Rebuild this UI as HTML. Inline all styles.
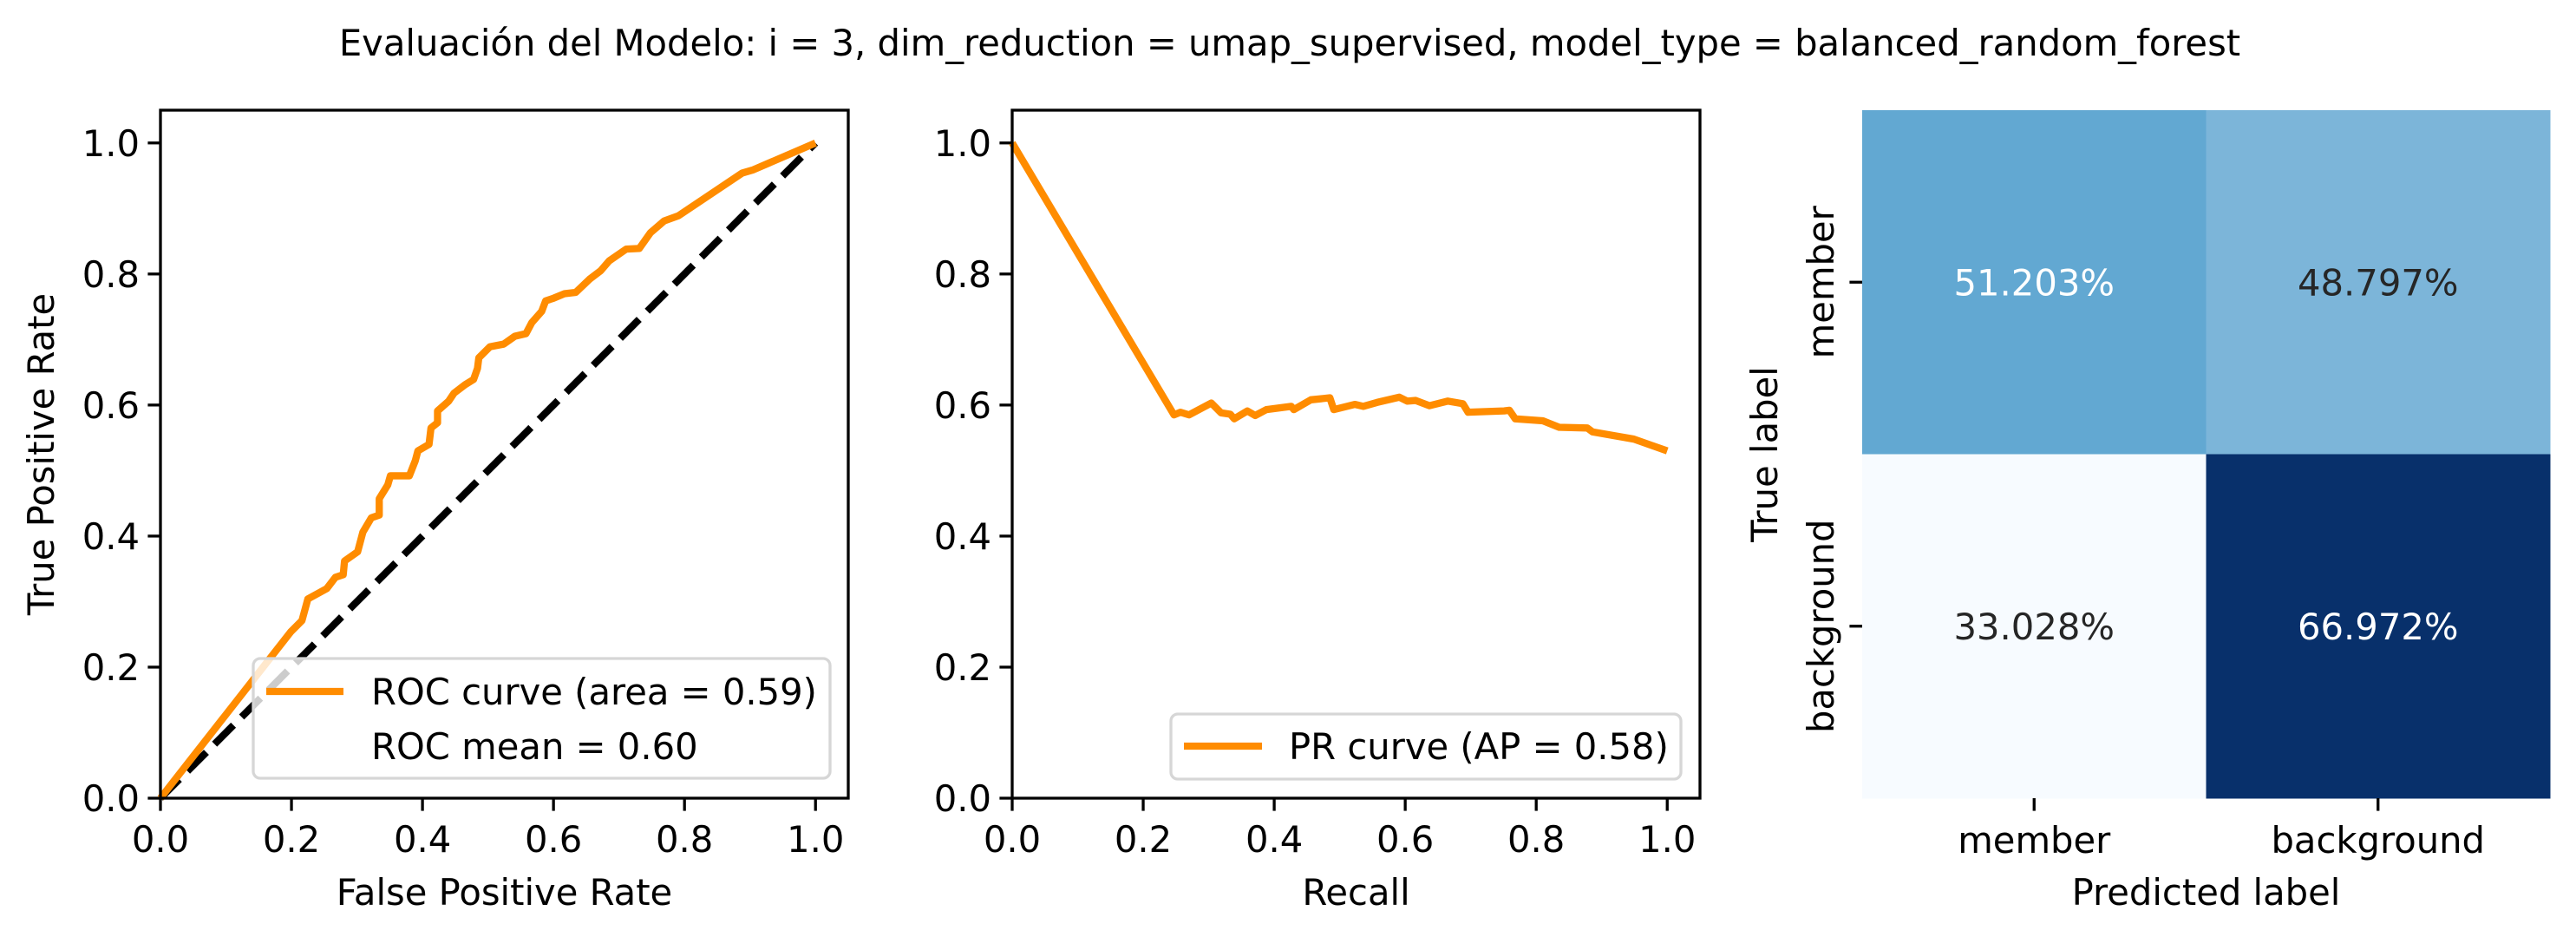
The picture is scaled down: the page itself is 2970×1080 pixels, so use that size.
<!DOCTYPE html>
<html><head><meta charset="utf-8"><style>
html,body{margin:0;padding:0;background:#fff;}
svg{display:block;font-family:"DejaVu Sans","Liberation Sans",sans-serif;}
</style></head><body>
<svg id="fig" width="2970" height="1080" viewBox="0 0 2970 1080" xmlns="http://www.w3.org/2000/svg">
<text x="1487" y="64" font-size="41.7" text-anchor="middle">Evaluación del Modelo: i = 3, dim_reduction = umap_supervised, model_type = balanced_random_forest</text>
</svg>
<script>
const rocFpr=[0,.199,.216,.225,.254,.267,.279,.281,.301,.309,.322,.334,.334,.347,.351,.380,.389,.393,.410,.413,.423,.423,.440,.448,.465,.478,.484,.486,.503,.524,.541,.558,.567,.582,.588,.600,.617,.634,.655,.672,.685,.711,.731,.748,.769,.791,.888,.905,1];
const rocTpr=[0,.254,.271,.304,.320,.337,.341,.362,.376,.406,.428,.432,.457,.478,.492,.492,.515,.530,.540,.565,.573,.591,.606,.618,.631,.639,.656,.672,.689,.693,.705,.709,.726,.743,.759,.763,.770,.772,.792,.805,.820,.838,.839,.863,.881,.889,.954,.959,1];
const prRecall=[0,.247,.257,.270,.304,.319,.333,.339,.359,.371,.388,.426,.430,.456,.485,.491,.523,.536,.557,.591,.603,.616,.637,.665,.688,.696,.751,.759,.768,.810,.835,.878,.886,.949,1];
const prPrecision=[1,.585,.589,.585,.603,.588,.586,.579,.591,.584,.593,.598,.593,.608,.611,.593,.601,.598,.604,.612,.606,.607,.599,.606,.602,.589,.591,.592,.579,.576,.566,.565,.559,.548,.530];
const ticks=[0,0.2,0.4,0.6,0.8,1.0];
const tickLabels=["0.0","0.2","0.4","0.6","0.8","1.0"];
const cmLabels=["member","background"];
const cmValues=[[51.203,48.797],[33.028,66.972]];
const cmColors=[["#62a8d2","#7cb5d9"],["#f7fbff","#08306b"]];

const NS="http://www.w3.org/2000/svg";
const fig=document.getElementById('fig');
function el(tag,attrs,parent,text){const e=document.createElementNS(NS,tag);for(const k in attrs)e.setAttribute(k,attrs[k]);if(text!==undefined)e.textContent=text;(parent||fig).appendChild(e);return e;}
const TOP=127,BOT=920,FS=41.7;
function axes(left,name,xlabel,ylabel){
  const g=el('g',{});
  
  
  const W=793;
  const sx=v=>left+v/1.05*W, sy=v=>BOT-v/1.05*(BOT-TOP);
  ticks.forEach((t,i)=>{
    const l1=el('line',{x1:sx(t),x2:sx(t),y1:BOT,y2:BOT+14.6,stroke:'#000','stroke-width':3.3},g);
    
    
    const t1=el('text',{x:sx(t),y:BOT+62,'font-size':FS,'text-anchor':'middle'},g,tickLabels[i]);
    
    
    const l2=el('line',{x1:left-14.6,x2:left,y1:sy(t),y2:sy(t),stroke:'#000','stroke-width':3.3},g);
    
    
    const t2=el('text',{x:left-24,y:sy(t)+15,'font-size':FS,'text-anchor':'end'},g,tickLabels[i]);
    
    
  });
  const xl=el('text',{x:left+W/2,y:1043,'font-size':FS,'text-anchor':'middle'},g,xlabel);
  
  
  if(ylabel){
    const yl=el('text',{x:0,y:0,'font-size':FS,'text-anchor':'middle',transform:`translate(62,${(TOP+BOT)/2}) rotate(-90)`},g,ylabel);
    
    
  }
  return {g,sx,sy,left,W};
}
function frame(a){
  const r=el('rect',{x:a.left,y:TOP,width:a.W,height:BOT-TOP,fill:'none',stroke:'#000','stroke-width':3.3},a.g);
  
  
}
// ROC
const A=axes(185,'roc-panel','False Positive Rate','True Positive Rate');
const diag=el('line',{x1:A.sx(0),y1:A.sy(0),x2:A.sx(1),y2:A.sy(1),stroke:'#000','stroke-width':8.3,'stroke-dasharray':'30.8,13.3'},A.g);


const rocP=el('polyline',{points:rocFpr.map((v,i)=>A.sx(v)+','+A.sy(rocTpr[i])).join(' '),fill:'none',stroke:'#ff8c00','stroke-width':8.3,'stroke-linejoin':'round'},A.g);


frame(A);
const lg1=el('g',{},A.g);


el('rect',{x:292,y:759,width:665,height:138,rx:8,fill:'#fff','fill-opacity':0.8,stroke:'#d6d6d6','stroke-width':3.3},lg1);
el('line',{x1:307,x2:396,y1:797,y2:797,stroke:'#ff8c00','stroke-width':8.3},lg1);
const lt1=el('text',{x:428,y:812,'font-size':FS},lg1,'ROC curve (area = 0.59)');


const lt2=el('text',{x:428,y:875,'font-size':FS},lg1,'ROC mean = 0.60');


// PR
const B=axes(1167,'pr-panel','Recall',null);
const prP=el('polyline',{points:prRecall.map((v,i)=>B.sx(v)+','+B.sy(prPrecision[i])).join(' '),fill:'none',stroke:'#ff8c00','stroke-width':8.3,'stroke-linejoin':'round'},B.g);


frame(B);
const lg2=el('g',{},B.g);


el('rect',{x:1350,y:823,width:588,height:75,rx:8,fill:'#fff','fill-opacity':0.8,stroke:'#d6d6d6','stroke-width':3.3},lg2);
el('line',{x1:1365,x2:1455,y1:860,y2:860,stroke:'#ff8c00','stroke-width':8.3},lg2);
const lt3=el('text',{x:1486,y:875,'font-size':FS},lg2,'PR curve (AP = 0.58)');


// Confusion matrix
const C=el('g',{});


const CL=2147,CS=793/2;
for(let r=0;r<2;r++)for(let c=0;c<2;c++){
  const cell=el('rect',{x:CL+c*CS,y:TOP+r*CS,width:CS+0.5,height:CS+0.5,fill:cmColors[r][c]},C);
  
  
  const dark=cmValues[r][c]>50;
  const tv=el('text',{x:CL+c*CS+CS/2,y:TOP+r*CS+CS/2+15,'font-size':FS,'text-anchor':'middle',fill:dark?'#ffffff':'#262626'},C,cmValues[r][c].toFixed(3)+'%');
  
  
}
cmLabels.forEach((lab,i)=>{
  const cx=CL+i*CS+CS/2, cy=TOP+i*CS+CS/2;
  el('line',{x1:cx,x2:cx,y1:BOT,y2:BOT+14.6,stroke:'#000','stroke-width':3.3},C);
  const xt=el('text',{x:cx,y:983,'font-size':FS,'text-anchor':'middle'},C,lab);
  
  
  el('line',{x1:CL-14.6,x2:CL,y1:cy,y2:cy,stroke:'#000','stroke-width':3.3},C);
  const yt=el('text',{x:0,y:0,'font-size':FS,'text-anchor':'middle',transform:`translate(2114,${cy}) rotate(-90)`},C,lab);
  
  
});
const px=el('text',{x:CL+CS,y:1043,'font-size':FS,'text-anchor':'middle'},C,'Predicted label');


const ty=el('text',{x:0,y:0,'font-size':FS,'text-anchor':'middle',transform:`translate(2049,${(TOP+BOT)/2}) rotate(-90)`},C,'True label');


</script>
</body></html>
